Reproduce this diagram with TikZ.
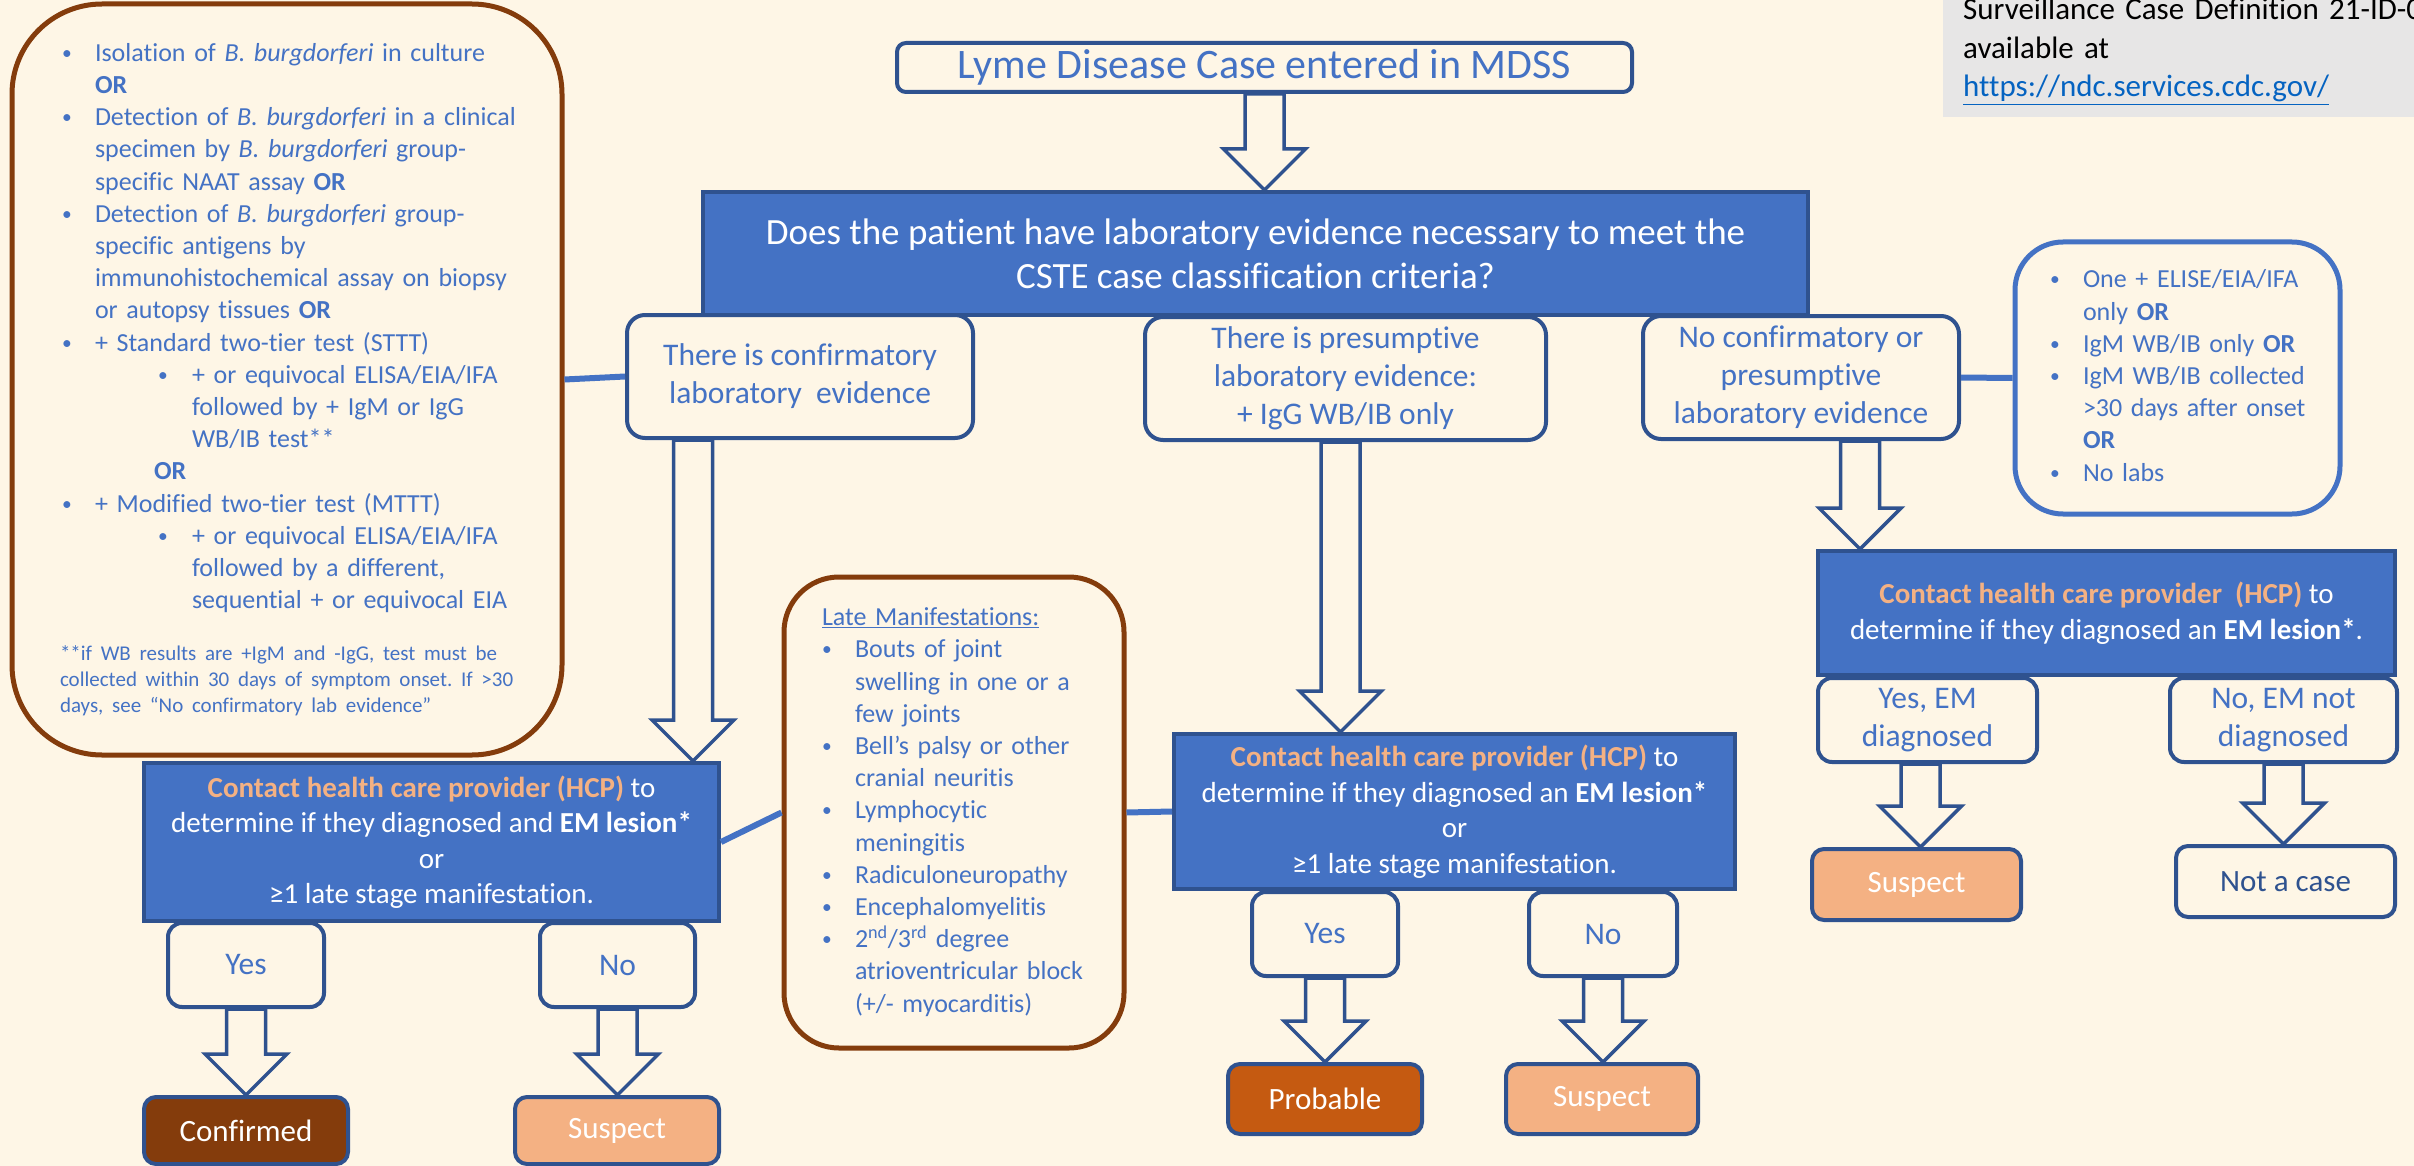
\documentclass[tikz,border=0pt]{standalone}
\usepackage{fontspec}
\setmainfont{Carlito}[Ligatures=NoCommon]
\usetikzlibrary{calc}

\definecolor{bg}{HTML}{FEF6E6}
\definecolor{txtblue}{HTML}{4472C4}
\definecolor{dkblue}{HTML}{2F528F}
\definecolor{brownline}{HTML}{843C0C}
\definecolor{peach}{HTML}{F4B183}
\definecolor{rust}{HTML}{C55A11}
\definecolor{notegray}{HTML}{E7E6E6}
\definecolor{linkblue}{HTML}{0563C1}

\frenchspacing
\newcommand\smalldot{\raisebox{2pt}{\scalebox{0.75}{\textbullet}}}
\newcommand\itemdot{\makebox[33pt][l]{\smalldot}}
\newcommand\itemgap{\hspace*{33pt}}
\newcommand\subdot{\hspace*{96pt}\makebox[34pt][l]{\smalldot}}
\newcommand\subgap{\hspace*{130pt}}
\newcommand\hollowarrow[2]{\path[bigarrow] let \p1=(#1), \p2=(#2) in
  (\x1-19.5pt,\y1) -- (\x1-19.5pt,\y2+41pt) -- (\x1-41pt,\y2+41pt) -- (\x1,\y2)
  -- (\x1+41pt,\y2+41pt) -- (\x1+19.5pt,\y2+41pt) -- (\x1+19.5pt,\y1) -- cycle;}

\begin{document}
\begin{tikzpicture}[x=1pt,y=-1pt]
\tikzset{every node/.style={inner sep=0pt,text=txtblue,font=\fontsize{31.5}{38}\selectfont}}
\tikzset{choice/.style={draw=dkblue,line width=4pt,fill=bg,rounded corners=18pt,align=center}}
\tikzset{action/.style={draw=dkblue,line width=4pt,fill=txtblue,text=white,align=center,font=\fontsize{29}{35.5}\selectfont}}
\tikzset{outcome/.style={draw=dkblue,line width=4pt,rounded corners=12pt,text=white,font=\fontsize{31}{37}\selectfont}}
\tikzset{listbox/.style={line width=5pt,fill=bg,align=left,font=\fontsize{26}{32.2}\selectfont}}
\tikzset{bigarrow/.style={draw=dkblue,line width=3.5pt,fill=bg}}
\tikzset{joinline/.style={draw=txtblue,line width=6pt}}

\useasboundingbox (0,0) rectangle (2414,1166);
\clip (0,0) rectangle (2414,1166);
\fill[bg] (0,0) rectangle (2414,1166);
\fill[notegray] (1943,-10) rectangle (2424,117);
\node[anchor=base west,text width=450,align=left,text=black,font=\fontsize{31}{38.5}\selectfont] (note) at (1963,20) {\mbox{Surveillance Case Definition 21-ID-0}\\available at\\\textcolor{linkblue}{\underline{https://ndc.services.cdc.gov/}}};

\node[choice,rounded corners=9pt,minimum width=735,minimum height=49,font=\fontsize{42}{50}\selectfont] (case) at (1264.5,67.5) {Lyme Disease Case entered in MDSS};
\node[action,minimum width=1105,minimum height=123,font=\fontsize{37}{44}\selectfont] (lab) at (1255.5,253.5) {Does the patient have laboratory evidence necessary to meet the\\CSTE case classification criteria?};
\node[choice,minimum width=346,minimum height=123] (conf) at (800,376.5) {There is confirmatory\\laboratory\ \ evidence};
\node[choice,minimum width=401,minimum height=123] (pres) at (1345.5,378.5) {There is presumptive\\laboratory evidence:\\+ IgG WB/IB only};
\node[choice,minimum width=316,minimum height=123] (none) at (1801,377.5) {No confirmatory or\\presumptive\\laboratory evidence};

\node[listbox,draw=brownline,rounded corners=90pt,minimum width=550,minimum height=751,text width=450] (crit) at (287,379.5) {\begin{tabular}[b]{@{}l@{}}
\itemdot Isolation of \textit{B. burgdorferi} in culture\\
\itemgap\textbf{OR}\\
\itemdot Detection of \textit{B. burgdorferi} in a clinical\\
\itemgap specimen by \textit{B. burgdorferi} group-\\
\itemgap specific NAAT assay \textbf{OR}\\
\itemdot Detection of \textit{B. burgdorferi} group-\\
\itemgap specific antigens by\\
\itemgap immunohistochemical assay on biopsy\\
\itemgap or autopsy tissues \textbf{OR}\\
\itemdot + Standard two-tier test (STTT)\\
\subdot + or equivocal ELISA/EIA/IFA\\
\subgap followed by + IgM or IgG\\
\subgap WB/IB test**\\
\hspace*{92pt}\textbf{OR}\\
\itemdot + Modified two-tier test (MTTT)\\
\subdot + or equivocal ELISA/EIA/IFA\\
\subgap followed by a different,\\
\subgap sequential + or equivocal EIA
\end{tabular}\par\vspace{23pt}
{\fontsize{21}{26}\selectfont\begin{tabular}[t]{@{}l@{}}
\hspace*{-2pt}**if WB results are +IgM and -IgG, test must be\\
\hspace*{-2pt}collected within 30 days of symptom onset. If >30\\
\hspace*{-2pt}days, see “No confirmatory lab evidence”
\end{tabular}\par}};

\node[listbox,draw=txtblue,rounded corners=48pt,minimum width=325,minimum height=272,text width=255] (alt) at (2177.5,378) {\begin{tabular}{@{}l@{}}
\itemdot One + ELISE/EIA/IFA\\
\itemgap only \textbf{OR}\\
\itemdot IgM WB/IB only \textbf{OR}\\
\itemdot IgM WB/IB collected\\
\itemgap >30 days after onset\\
\itemgap\textbf{OR}\\
\itemdot No labs
\end{tabular}};

\node[action,minimum width=575,minimum height=158] (hcpA) at (431.5,842) {\textbf{\textcolor{peach}{Contact health care provider (HCP)}} to\\determine if they diagnosed and \textbf{EM lesion*}\\or\\≥1 late stage manifestation.};

\node[listbox,draw=brownline,rounded corners=55pt,minimum width=340,minimum height=471,text width=264] (late) at (954,812.5) {\begin{tabular}{@{}l@{}}
\underline{Late Manifestations:}\\
\itemdot Bouts of joint\\
\itemgap swelling in one or a\\
\itemgap few joints\\
\itemdot Bell’s palsy or other\\
\itemgap cranial neuritis\\
\itemdot Lymphocytic\\
\itemgap meningitis\\
\itemdot Radiculoneuropathy\\
\itemdot Encephalomyelitis\\
\itemdot 2\textsuperscript{nd}/3\textsuperscript{rd} degree\\
\itemgap atrioventricular block\\
\itemgap (+/- myocarditis)
\end{tabular}};

\node[action,minimum width=561,minimum height=155] (hcpB) at (1454.5,811.5) {\textbf{\textcolor{peach}{Contact health care provider (HCP)}} to\\determine if they diagnosed an \textbf{EM lesion*}\\or\\≥1 late stage manifestation.};
\node[action,minimum width=577,minimum height=124] (hcpC) at (2106.5,613) {\textbf{\textcolor{peach}{Contact health care provider\ \ (HCP)}} to\\determine if they diagnosed an \textbf{EM lesion*}.};

\node[choice,rounded corners=14pt,minimum width=156,minimum height=84] (yesA) at (246,965) {Yes};
\node[choice,rounded corners=14pt,minimum width=155,minimum height=84] (noA) at (617.5,965) {No};
\node[outcome,fill=brownline,minimum width=204,minimum height=67] (confd) at (246,1130.5) {Confirmed};
\node[outcome,fill=peach,minimum width=204,minimum height=67] (susA) at (617,1130.5) {Suspect};
\node[choice,rounded corners=14pt,minimum width=146,minimum height=84] (yesB) at (1325,934) {Yes};
\node[choice,rounded corners=14pt,minimum width=148,minimum height=84] (noB) at (1603,934) {No};
\node[outcome,fill=rust,minimum width=194,minimum height=70] (prob) at (1325,1099) {Probable};
\node[outcome,fill=peach,minimum width=192,minimum height=70] (susB) at (1602,1099) {Suspect};
\node[choice,rounded corners=14pt,minimum width=219,minimum height=84] (yesC) at (1927.5,720) {Yes, EM\\diagnosed};
\node[choice,rounded corners=14pt,minimum width=227,minimum height=84] (noC) at (2283.5,720) {No, EM not\\diagnosed};
\node[outcome,fill=peach,minimum width=209,minimum height=71] (susC) at (1916.5,884.5) {Suspect};
\node[outcome,fill=bg,text=dkblue,minimum width=219,minimum height=71] (notc) at (2285.5,881.5) {Not a case};

\draw[joinline] (crit.east) -- (conf.west);
\draw[joinline] (none.east) -- (alt.west);
\draw[joinline] (hcpA.east) -- (late.west);
\draw[joinline] (late.east) -- (hcpB.west);

\hollowarrow{case.south}{lab.north}
\hollowarrow{[xshift=-107pt]conf.south}{hcpA.north}
\hollowarrow{[xshift=-5pt]pres.south}{hcpB.north}
\hollowarrow{[xshift=59pt]none.south}{hcpC.north}
\hollowarrow{yesA.south}{confd.north}
\hollowarrow{noA.south}{susA.north}
\hollowarrow{yesB.south}{prob.north}
\hollowarrow{noB.south}{susB.north}
\hollowarrow{[xshift=-7pt]yesC.south}{susC.north}
\hollowarrow{noC.south}{notc.north}
\end{tikzpicture}
\end{document}
